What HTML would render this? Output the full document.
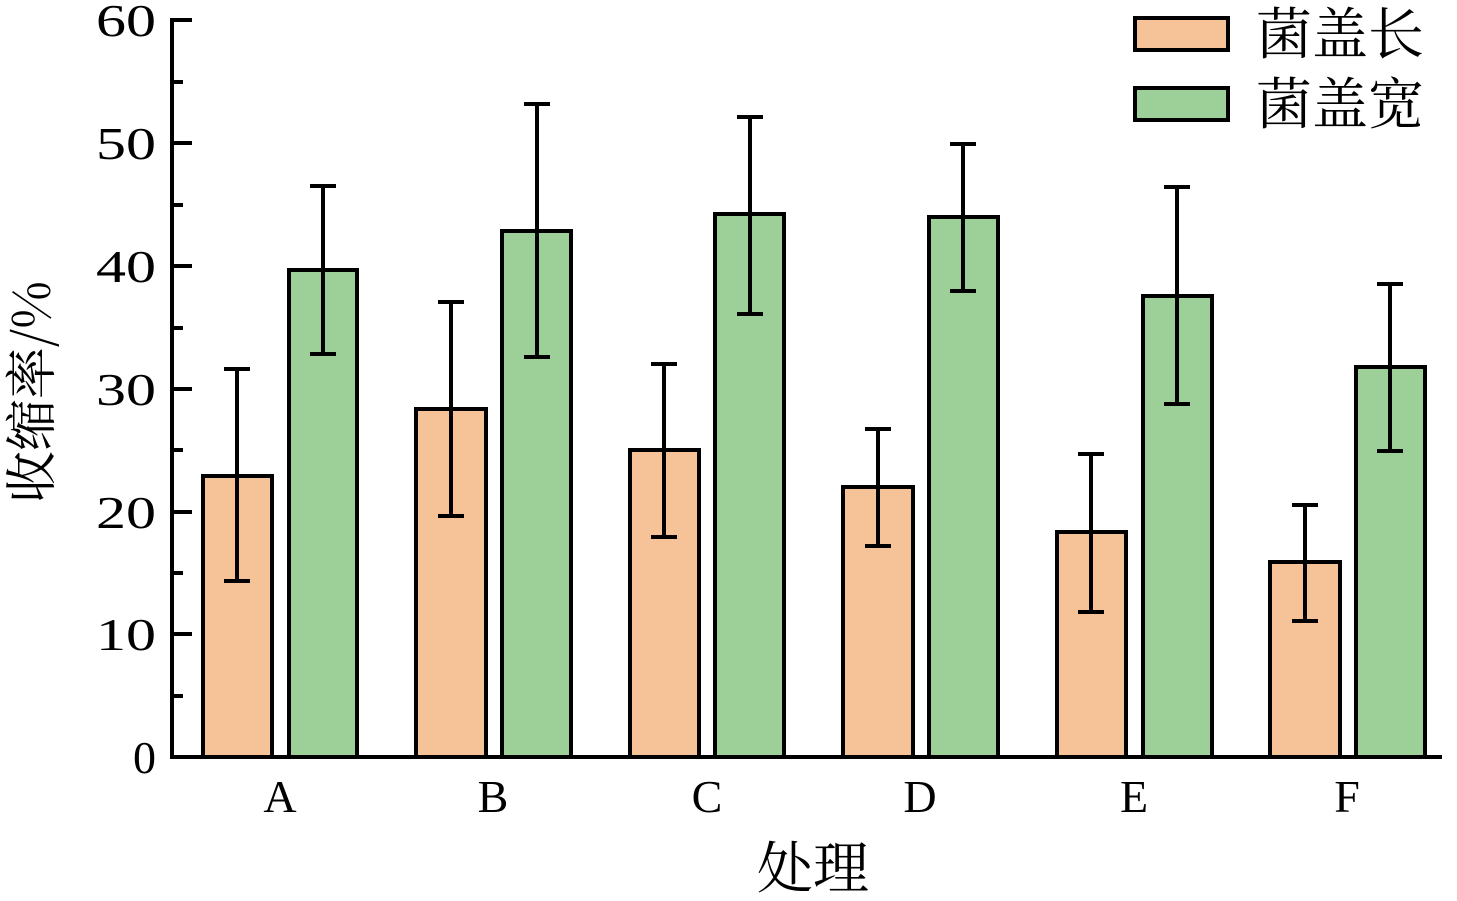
<!DOCTYPE html>
<html><head><meta charset="utf-8"><style>body{margin:0;background:#fff}</style></head><body>
<svg width="1457" height="896" viewBox="0 0 1457 896" xmlns="http://www.w3.org/2000/svg">
<g font-family="Liberation Serif, Noto Serif CJK SC, serif" fill="#000">
<g stroke="#000" stroke-width="4">
<line x1="172" y1="18" x2="172" y2="759"/>
<line x1="170" y1="757" x2="1442" y2="757"/>
<line x1="172" y1="20" x2="192" y2="20"/>
<line x1="172" y1="143" x2="192" y2="143"/>
<line x1="172" y1="266" x2="192" y2="266"/>
<line x1="172" y1="389" x2="192" y2="389"/>
<line x1="172" y1="512" x2="192" y2="512"/>
<line x1="172" y1="634" x2="192" y2="634"/>
<line x1="172" y1="82" x2="183" y2="82"/>
<line x1="172" y1="205" x2="183" y2="205"/>
<line x1="172" y1="328" x2="183" y2="328"/>
<line x1="172" y1="450" x2="183" y2="450"/>
<line x1="172" y1="573" x2="183" y2="573"/>
<line x1="172" y1="696" x2="183" y2="696"/>
</g>
<g font-size="46" text-anchor="end">
<text x="156" y="36" textLength="60" lengthAdjust="spacingAndGlyphs">60</text>
<text x="156" y="159" textLength="60" lengthAdjust="spacingAndGlyphs">50</text>
<text x="156" y="282" textLength="60" lengthAdjust="spacingAndGlyphs">40</text>
<text x="156" y="405" textLength="60" lengthAdjust="spacingAndGlyphs">30</text>
<text x="156" y="528" textLength="60" lengthAdjust="spacingAndGlyphs">20</text>
<text x="156" y="650" textLength="60" lengthAdjust="spacingAndGlyphs">10</text>
<text x="156" y="773">0</text>
</g>
<g font-size="46" text-anchor="middle">
<text x="280" y="812">A</text><text x="493" y="812">B</text><text x="707" y="812">C</text>
<text x="920" y="812">D</text><text x="1134" y="812">E</text><text x="1347" y="812">F</text>
</g>
<text x="813" y="888" font-size="56" text-anchor="middle" font-family="Noto Serif CJK SC, serif">处理</text>
<text transform="translate(50,392) rotate(-90)" font-size="52" text-anchor="middle" font-family="Noto Serif CJK SC, serif">收缩率/%</text>
<g stroke="#000" stroke-width="4">
<g fill="#f5c397">
<rect x="203" y="476" width="69" height="281"/>
<rect x="416" y="409" width="70" height="348"/>
<rect x="630" y="450" width="69" height="307"/>
<rect x="843" y="487" width="70" height="270"/>
<rect x="1057" y="532" width="69" height="225"/>
<rect x="1270" y="562" width="70" height="195"/>
</g>
<g fill="#9dcf98">
<rect x="289" y="270" width="68" height="487"/>
<rect x="502" y="231" width="69" height="526"/>
<rect x="715" y="214" width="69" height="543"/>
<rect x="929" y="217" width="69" height="540"/>
<rect x="1143" y="296" width="69" height="461"/>
<rect x="1356" y="367" width="69" height="390"/>
</g>
<g fill="none">
<path d="M237 369V581M224 369H250M224 581H250"/>
<path d="M323 186V354M310 186H336M310 354H336"/>
<path d="M451 302V516M438 302H464M438 516H464"/>
<path d="M537 104V357M524 104H550M524 357H550"/>
<path d="M664 364V537M651 364H677M651 537H677"/>
<path d="M750 117V314M737 117H763M737 314H763"/>
<path d="M878 429V546M865 429H891M865 546H891"/>
<path d="M963 144V291M950 144H976M950 291H976"/>
<path d="M1091 454V612M1078 454H1104M1078 612H1104"/>
<path d="M1177 187V404M1164 187H1190M1164 404H1190"/>
<path d="M1305 505V621M1292 505H1318M1292 621H1318"/>
<path d="M1390 284V451M1377 284H1403M1377 451H1403"/>
</g>
<rect x="1135" y="18" width="93" height="32" fill="#f5c397"/>
<rect x="1135" y="88" width="93" height="32" fill="#9dcf98"/>
</g>
<g font-size="56" font-family="Noto Serif CJK SC, serif">
<text x="1256" y="54">菌盖长</text>
<text x="1256" y="124">菌盖宽</text>
</g>
</g>
</svg>
</body></html>
